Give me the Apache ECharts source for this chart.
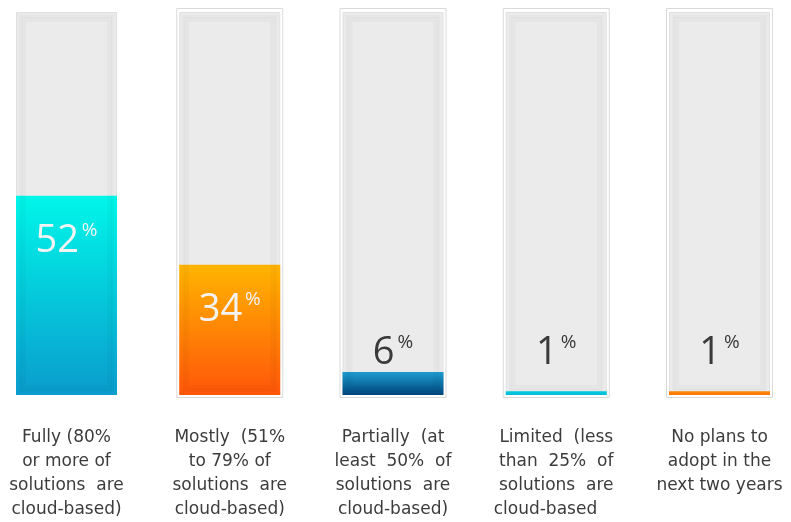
<!DOCTYPE html>
<html>
<head>
<meta charset="utf-8">
<script src="https://cdn.jsdelivr.net/npm/echarts@6/dist/echarts.min.js"></script>
<style>
html,body{margin:0;padding:0;background:#fff;}
#chart{width:791px;height:522px;}
</style>
</head>
<body>
<div id="chart"></div>
<script>
// ---- data ----
const categories = [
  'Fully (80%\nor more of\nsolutions  are\ncloud-based)',
  'Mostly  (51%\nto 79% of\nsolutions  are\ncloud-based)',
  'Partially  (at\nleast  50%  of\nsolutions  are\ncloud-based)',
  'Limited  (less\nthan  25%  of\nsolutions  are\ncloud-based    ',
  'No plans to\nadopt in the\nnext two years'
];
const values = [52, 34, 6, 1, 1];
const fullScale = [100, 100, 100, 100, 100];
const framed = ['-', 100, 100, 100, 100];

// ---- style ----
const gradTop = ['#00f6e9', '#ffb400', '#1d9ccf', '#00cfe0', '#ff8a00'];
const gradBottom = ['#0a9ccd', '#ff560a', '#00457c', '#06b9d6', '#ff7400'];
const insideThreshold = 20;

const chart = echarts.init(document.getElementById('chart'), null, {renderer: 'canvas'});

function grad(i) {
  return new echarts.graphic.LinearGradient(0, 0, 0, 1, [
    {offset: 0, color: gradTop[i]},
    {offset: 1, color: gradBottom[i]}
  ]);
}
function richLabel(color) {
  return {
    n: {fontSize: 38, fontFamily: 'Open Sans', color: color, lineHeight: 40},
    p: {fontSize: 19, fontFamily: 'Open Sans', color: color, lineHeight: 36, verticalAlign: 'top', padding: [0, 0, 0, 3]}
  };
}
const fmt = v => '{n|' + v + '}{p|%}';

const catAxis = (idx, show) => ({
  type: 'category',
  data: categories,
  gridIndex: 0,
  boundaryGap: false,
  axisLine: {show: false},
  axisTick: {show: false},
  splitLine: {show: false},
  axisLabel: show ? {
    show: true,
    interval: 0,
    margin: 28,
    fontFamily: 'DejaVu Sans',
    fontSize: 17,
    lineHeight: 24,
    color: '#3c3c3c',
    align: 'center'
  } : {show: false}
});
const valAxis = (min, max) => ({
  type: 'value', min: min, max: max, show: false, splitLine: {show: false}
});

const option = {
  animation: false,
  backgroundColor: '#ffffff',
  grid: {left: 66.5, right: 71.5, top: 8, height: 391, containLabel: false},
  xAxis: [catAxis(0, true), catAxis(1, false), catAxis(2, false), catAxis(3, false), catAxis(4, false)],
  yAxis: [valAxis(0, 100), valAxis(-0.78, 101.04), valAxis(-2.14, 102.41), valAxis(-1.6, 101.85)],
  series: [
    {
      name: 'frame', type: 'bar', xAxisIndex: 0, yAxisIndex: 0, barWidth: 107,
      data: framed, silent: true, z: 1,
      itemStyle: {color: '#ffffff', borderColor: '#dadada', borderWidth: 1}
    },
    {
      name: 'box', type: 'bar', xAxisIndex: 1, yAxisIndex: 1, barWidth: 101,
      data: fullScale.map((v, i) => ({
        value: v,
        label: values[i] < insideThreshold ? {
          show: true, position: 'insideBottom', distance: 22,
          formatter: fmt(values[i]), rich: richLabel('#3a3a3a')
        } : {show: false}
      })),
      silent: true, z: 2,
      itemStyle: {color: '#ebebeb', borderColor: '#e0e0e0', borderWidth: 1}
    },
    {
      name: 'share', type: 'bar', xAxisIndex: 2, yAxisIndex: 1, barWidth: 101,
      data: values.map((v, i) => ({
        value: v,
        itemStyle: {color: grad(i)},
        label: v >= insideThreshold ? {
          show: true, position: 'insideTop', distance: 25,
          formatter: fmt(v), rich: richLabel('#f3f3f3')
        } : {show: false}
      })),
      z: 3
    },
    {
      name: 'inset', type: 'bar', xAxisIndex: 3, yAxisIndex: 2, barWidth: 91,
      data: fullScale, silent: true, z: 4,
      itemStyle: {color: 'rgba(0,0,0,0)', borderColor: 'rgba(0,0,0,0.025)', borderWidth: 5}
    },
    {
      name: 'inset2', type: 'bar', xAxisIndex: 4, yAxisIndex: 3, barWidth: 95,
      data: fullScale, silent: true, z: 4,
      itemStyle: {color: 'rgba(0,0,0,0)', borderColor: 'rgba(0,0,0,0.018)', borderWidth: 3}
    }
  ]
};
chart.setOption(option);
</script>
</body>
</html>
